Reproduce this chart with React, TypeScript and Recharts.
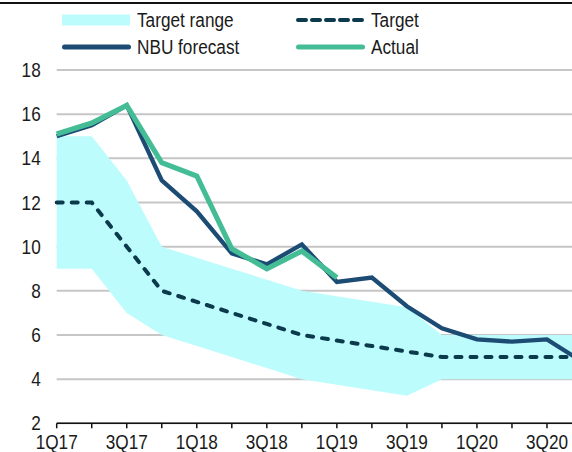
import React from 'react';
import {
  ComposedChart,
  Area,
  Line,
  XAxis,
  YAxis,
  CartesianGrid,
} from 'recharts';

const quarters = ['1Q17', '2Q17', '3Q17', '4Q17', '1Q18', '2Q18', '3Q18', '4Q18', '1Q19', '2Q19', '3Q19', '4Q19', '1Q20', '2Q20', '3Q20', '4Q20'];
const rangeLow = [9, 9, 7, 6, 5.5, 5, 4.5, 4, 3.75, 3.5, 3.25, 4, 4, 4, 4, 4];
const rangeHigh = [15, 15, 13, 10, 9.5, 9, 8.5, 8, 7.75, 7.5, 7.25, 6, 6, 6, 6, 6];
const target = [12, 12, 10, 8, 7.5, 7, 6.5, 6, 5.75, 5.5, 5.25, 5, 5, 5, 5, 5];
const forecast = [15, 15.5, 16.4, 13, 11.6, 9.7, 9.2, 10.1, 8.4, 8.6, 7.3, 6.3, 5.8, 5.7, 5.8, 4.8];
const actual: (number | null)[] = [15.1, 15.6, 16.4, 13.8, 13.2, 9.9, 9.0, 9.8, 8.6, null, null, null, null, null, null, null];
const yTicks = [2, 4, 6, 8, 10, 12, 14, 16, 18];

const FONT = "'Liberation Sans', Arial, sans-serif";
const FS = 20;
const SX = 0.86;
const TEXT = '#1a1a1a';
const CYAN = '#bdfcfc';
const BLUE = '#1c4b74';
const GREEN = '#44bd97';
const DASH = '#0b3a4c';
const GRID = '#c6c6c6';

const data = quarters.map((q, i) => ({
  q,
  range: [rangeLow[i], rangeHigh[i]],
  target: target[i],
  forecast: forecast[i],
  actual: actual[i],
}));

const XTick = (props: any) => {
  const { x, y, payload, index } = props;
  if (index % 2 !== 0) return null;
  return (
    <g transform={`translate(${x},${y}) scale(${SX},1)`}>
      <text x={0} y={0} dy="0.71em" textAnchor="middle" fill={TEXT} fontSize={FS} fontFamily={FONT}>
        {payload.value}
      </text>
    </g>
  );
};

const YTick = (props: any) => {
  const { x, y, payload } = props;
  return (
    <g transform={`translate(${x},${y}) scale(${SX},1)`}>
      <text x={0} y={0} dy="0.355em" textAnchor="end" fill={TEXT} fontSize={FS} fontFamily={FONT}>
        {payload.value}
      </text>
    </g>
  );
};

const legendItems = [
  { label: 'Target range', kind: 'rect', color: CYAN, x: 62, y: 20 },
  { label: 'Target', kind: 'dash', color: DASH, x: 296, y: 20 },
  { label: 'NBU forecast', kind: 'line', color: BLUE, x: 62, y: 47 },
  { label: 'Actual', kind: 'line', color: GREEN, x: 296, y: 47 },
];

const ChartLegend = () => (
  <div style={{ position: 'absolute', left: 0, top: 0, width: 572, height: 60 }}>
    {legendItems.map((it) => (
      <div key={it.label} style={{ position: 'absolute', left: it.x, top: it.y - 12, height: 24, display: 'flex', alignItems: 'center' }}>
        <svg width={69} height={24} style={{ display: 'block' }}>
          {it.kind === 'rect' && <rect x={0} y={6.5} width={68} height={11} fill={it.color} />}
          {it.kind === 'line' && <line x1={2.5} y1={12} x2={66.5} y2={12} stroke={it.color} strokeWidth={5} strokeLinecap="round" />}
          {it.kind === 'dash' && <line x1={2} y1={12} x2={67} y2={12} stroke={it.color} strokeWidth={4} strokeLinecap="round" strokeDasharray="8 6" />}
        </svg>
        <span style={{ marginLeft: 6, fontFamily: FONT, fontSize: FS, color: TEXT, lineHeight: '24px', whiteSpace: 'nowrap', display: 'inline-block', transform: `scaleX(${SX})`, transformOrigin: 'left center' }}>{it.label}</span>
      </div>
    ))}
  </div>
);

export default function App() {
  return (
    <div style={{ position: 'absolute', left: 0, top: 0, width: 572, height: 452, overflow: 'hidden', background: '#fff' }}>
      <div style={{ position: 'absolute', left: 0, top: 2, width: 572, height: 2, background: '#111' }} />
      <ChartLegend />
      <div style={{ position: 'absolute', left: 0, top: 0 }}>
        <ComposedChart
          width={582}
          height={452}
          data={data}
          margin={{ top: 70, right: 0, bottom: 0, left: 0 }}
        >
          <CartesianGrid horizontal vertical={false} stroke={GRID} strokeWidth={2} />
          <XAxis
            dataKey="q"
            scale="point"
            padding={{ left: 0, right: 0 }}
            interval={0}
            height={28.7}
            tickSize={5}
            tickMargin={6}
            tick={<XTick />}
            axisLine={{ stroke: '#111', strokeWidth: 1.5 }}
            tickLine={{ stroke: '#111', strokeWidth: 1.5 }}
          />
          <YAxis
            domain={[2, 18]}
            ticks={yTicks}
            width={56.7}
            axisLine={false}
            tickLine={false}
            tickSize={0}
            tickMargin={16}
            tick={<YTick />}
            interval={0}
          />
          <Area dataKey="range" stroke="none" fill={CYAN} fillOpacity={1} isAnimationActive={false} dot={false} activeDot={false} />
          <Line dataKey="target" stroke={DASH} strokeWidth={4} strokeDasharray="6 9" strokeLinecap="round" dot={false} activeDot={false} isAnimationActive={false} />
          <Line dataKey="forecast" stroke={BLUE} strokeWidth={4.3} dot={false} activeDot={false} isAnimationActive={false} />
          <Line dataKey="actual" stroke={GREEN} strokeWidth={5.2} dot={false} activeDot={false} isAnimationActive={false} />
        </ComposedChart>
      </div>
    </div>
  );
}
